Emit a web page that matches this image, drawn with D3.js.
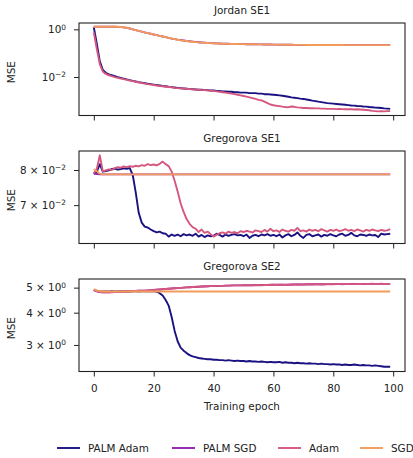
<!DOCTYPE html>
<html>
<head>
<meta charset="utf-8">
<script src="https://cdn.jsdelivr.net/npm/d3@7"></script>
<style>
  body { margin: 0; background: #fff; }
  svg { display: block; }
</style>
</head>
<body>
<script>
// ---- data ----
const epochs = d3.range(0, 100);
const seriesNames = ["PALM Adam", "PALM SGD", "Adam", "SGD"];
const panelTitles = ["Jordan SE1", "Gregorova SE1", "Gregorova SE2"];
const xTickValues = [0, 20, 40, 60, 80, 100];

const jordanTicks = [1, 0.01];
const jordanTickLabels = [["10", "0"], ["10", "\u22122"]];
const gregSe1Ticks = [0.08, 0.07];
const gregSe1TickLabels = [["8 \u00d7 10", "\u22122"], ["7 \u00d7 10", "\u22122"]];
const gregSe2Ticks = [5, 4, 3];
const gregSe2TickLabels = [["5 \u00d7 10", "0"], ["4 \u00d7 10", "0"], ["3 \u00d7 10", "0"]];

const jordanPalmAdam = [1.2,0.25,0.045,0.02,0.015,0.0128,0.0118,0.0108,0.0099,0.0092,
  0.0086,0.0079,0.0074,0.0069,0.0065,0.0061,0.0058,0.0055,0.0052,0.005,
  0.0048,0.0046,0.0044,0.0042,0.0041,0.0039,0.0038,0.0036,0.0035,0.0034,
  0.0033,0.0032,0.0031,0.0031,0.003,0.0029,0.0029,0.0028,0.0028,0.0027,
  0.0027,0.0026,0.0026,0.0025,0.0025,0.0024,0.0024,0.0023,0.0023,0.0022,
  0.0022,0.0022,0.0021,0.0021,0.0021,0.002,0.002,0.0019,0.0019,0.00185,
  0.0018,0.00175,0.0017,0.00163,0.00155,0.00148,0.0014,0.00135,0.0013,0.00124,
  0.0012,0.00114,0.00108,0.00102,0.00097,0.00092,0.00088,0.00084,0.0008,0.00078,
  0.00076,0.00074,0.00072,0.0007,0.00068,0.00066,0.00064,0.00063,0.00061,0.0006,
  0.00058,0.00057,0.00055,0.00054,0.00052,0.00051,0.0005,0.00048,0.00047,0.00046];
const jordanPalmSgd = [1.29,1.29,1.29,1.29,1.29,1.29,1.29,1.28,1.27,1.25,
  1.21,1.15,1.08,1.0,0.93,0.86,0.8,0.74,0.69,0.65,
  0.61,0.57,0.53,0.5,0.47,0.44,0.41,0.39,0.37,0.355,
  0.34,0.325,0.315,0.305,0.297,0.289,0.282,0.276,0.27,0.265,
  0.261,0.258,0.255,0.252,0.249,0.247,0.245,0.243,0.241,0.24,
  0.239,0.238,0.237,0.236,0.235,0.234,0.233,0.232,0.231,0.23,
  0.229,0.228,0.227,0.226,0.225,0.225,0.224,0.223,0.223,0.222,
  0.222,0.221,0.221,0.221,0.22,0.22,0.22,0.22,0.219,0.219,
  0.219,0.219,0.219,0.219,0.218,0.218,0.218,0.218,0.218,0.218,
  0.218,0.218,0.218,0.218,0.218,0.218,0.218,0.218,0.218,0.218];
const jordanAdam = [0.75,0.15,0.035,0.017,0.0135,0.0118,0.0108,0.0099,0.0092,0.0086,
  0.0081,0.0076,0.0071,0.0067,0.0063,0.0059,0.0056,0.0053,0.005,0.0048,
  0.0046,0.0044,0.0042,0.0041,0.0039,0.0038,0.0037,0.0035,0.0034,0.0033,
  0.0033,0.0032,0.0031,0.003,0.003,0.0029,0.0028,0.0028,0.0027,0.0027,
  0.0026,0.0025,0.0024,0.0023,0.0022,0.0021,0.002,0.0019,0.0018,0.0017,
  0.0016,0.0015,0.0014,0.0013,0.0012,0.0011,0.00104,0.00092,0.0008,0.0007,
  0.00065,0.00062,0.0006,0.00057,0.00055,0.00054,0.00058,0.00056,0.00053,0.00052,
  0.0005,0.0005,0.00049,0.00049,0.00048,0.00048,0.00047,0.00047,0.00046,0.00046,
  0.00046,0.00045,0.00046,0.00045,0.00044,0.00045,0.00044,0.00043,0.00044,0.00043,
  0.00042,0.00041,0.0004,0.00038,0.00037,0.00036,0.00037,0.00036,0.00037,0.00037];
const jordanSgd = [1.29,1.29,1.29,1.29,1.29,1.29,1.29,1.29,1.28,1.26,
  1.22,1.16,1.09,1.0,0.93,0.86,0.8,0.74,0.69,0.65,
  0.61,0.57,0.53,0.5,0.47,0.44,0.412,0.388,0.367,0.35,
  0.336,0.322,0.31,0.3,0.292,0.285,0.278,0.272,0.267,0.263,
  0.259,0.256,0.253,0.25,0.248,0.246,0.244,0.242,0.241,0.24,
  0.239,0.238,0.237,0.236,0.235,0.234,0.233,0.232,0.231,0.23,
  0.229,0.228,0.227,0.226,0.225,0.225,0.224,0.223,0.223,0.222,
  0.222,0.221,0.221,0.221,0.22,0.22,0.22,0.22,0.219,0.219,
  0.219,0.219,0.219,0.219,0.218,0.218,0.218,0.218,0.218,0.218,
  0.218,0.218,0.218,0.218,0.218,0.218,0.218,0.218,0.218,0.218];

const gregSe1PalmAdam = [0.0788,0.0795,0.0818,0.0795,0.0797,0.0799,0.0803,0.0804,0.0801,0.0803,
  0.0805,0.0804,0.0806,0.0785,0.0735,0.068,0.0655,0.0645,0.0643,0.0638,
  0.0634,0.0631,0.0633,0.0629,0.0628,0.0621,0.0626,0.0623,0.0626,0.0622,
  0.0627,0.0624,0.0626,0.0623,0.0628,0.0621,0.0625,0.062,0.0624,0.0622,
  0.0623,0.0628,0.0625,0.0621,0.0626,0.0623,0.0625,0.0627,0.0624,0.0625,
  0.0622,0.0626,0.0618,0.0623,0.0625,0.0622,0.0626,0.0624,0.0627,0.0623,
  0.0625,0.0622,0.0626,0.0619,0.0624,0.0627,0.0622,0.0625,0.0631,0.0623,
  0.0618,0.0625,0.0627,0.0622,0.0624,0.0626,0.0621,0.0625,0.0623,0.0627,
  0.0624,0.0622,0.0626,0.0628,0.0623,0.0625,0.063,0.0624,0.0622,0.0626,
  0.0625,0.0623,0.0626,0.0624,0.0625,0.062,0.0628,0.0626,0.0627,0.0628];
const gregSe1PalmSgd = [0.0789,0.0788,0.0787,0.0787,0.0787,0.0787,0.0787,0.0787,0.0787,0.0787,
  0.0787,0.0787,0.0787,0.0787,0.0787,0.0787,0.0787,0.0787,0.0787,0.0787,
  0.0787,0.0787,0.0787,0.0787,0.0787,0.0787,0.0787,0.0787,0.0787,0.0787,
  0.0787,0.0787,0.0787,0.0787,0.0787,0.0787,0.0787,0.0787,0.0787,0.0787,
  0.0787,0.0787,0.0787,0.0787,0.0787,0.0787,0.0787,0.0787,0.0787,0.0787,
  0.0787,0.0787,0.0787,0.0787,0.0787,0.0787,0.0787,0.0787,0.0787,0.0787,
  0.0787,0.0787,0.0787,0.0787,0.0787,0.0787,0.0787,0.0787,0.0787,0.0787,
  0.0787,0.0787,0.0787,0.0787,0.0787,0.0787,0.0787,0.0787,0.0787,0.0787,
  0.0787,0.0787,0.0787,0.0787,0.0787,0.0787,0.0787,0.0787,0.0787,0.0787,
  0.0787,0.0787,0.0787,0.0787,0.0787,0.0787,0.0787,0.0787,0.0787,0.0787];
const gregSe1Adam = [0.079,0.0803,0.0846,0.0796,0.0799,0.0802,0.08,0.0806,0.0809,0.0807,
  0.0811,0.0809,0.0812,0.081,0.0813,0.0811,0.0815,0.0813,0.0818,0.0815,
  0.0817,0.0814,0.0819,0.0826,0.0818,0.0812,0.0795,0.0768,0.0737,0.0705,
  0.0682,0.0664,0.0652,0.0644,0.064,0.0632,0.0638,0.063,0.0633,0.0627,
  0.0621,0.0625,0.0629,0.0631,0.0628,0.0633,0.063,0.0632,0.0629,0.0634,
  0.0632,0.0635,0.0633,0.0631,0.0636,0.0634,0.0632,0.0637,0.0633,0.064,
  0.0634,0.0636,0.0632,0.0638,0.0635,0.0633,0.0637,0.0635,0.0642,0.0634,
  0.0636,0.0633,0.0638,0.0635,0.0637,0.0634,0.0639,0.0636,0.0633,0.0637,
  0.0635,0.0638,0.0634,0.0636,0.0639,0.0635,0.0637,0.0634,0.0638,0.0636,
  0.0633,0.0637,0.0635,0.0638,0.0636,0.0634,0.0637,0.0635,0.0636,0.0639];
const gregSe1Sgd = [0.0803,0.0796,0.0789,0.0787,0.0787,0.0787,0.0787,0.0787,0.0787,0.0787,
  0.0787,0.0787,0.0787,0.0787,0.0787,0.0787,0.0787,0.0787,0.0787,0.0787,
  0.0787,0.0787,0.0787,0.0787,0.0787,0.0787,0.0787,0.0787,0.0787,0.0787,
  0.0787,0.0787,0.0787,0.0787,0.0787,0.0787,0.0787,0.0787,0.0787,0.0787,
  0.0787,0.0787,0.0787,0.0787,0.0787,0.0787,0.0787,0.0787,0.0787,0.0787,
  0.0787,0.0787,0.0787,0.0787,0.0787,0.0787,0.0787,0.0787,0.0787,0.0787,
  0.0787,0.0787,0.0787,0.0787,0.0787,0.0787,0.0787,0.0787,0.0787,0.0787,
  0.0787,0.0787,0.0787,0.0787,0.0787,0.0787,0.0787,0.0787,0.0787,0.0787,
  0.0787,0.0787,0.0787,0.0787,0.0787,0.0787,0.0787,0.0787,0.0787,0.0787,
  0.0787,0.0787,0.0787,0.0787,0.0787,0.0787,0.0787,0.0787,0.0787,0.0787];

const gregSe2PalmAdam = [4.9,4.86,4.84,4.83,4.83,4.83,4.84,4.83,4.83,4.84,
  4.83,4.84,4.83,4.84,4.84,4.83,4.84,4.84,4.84,4.84,
  4.84,4.82,4.76,4.66,4.48,4.26,3.85,3.4,3.1,2.93,
  2.85,2.79,2.74,2.71,2.69,2.67,2.66,2.65,2.64,2.64,
  2.63,2.63,2.62,2.62,2.61,2.62,2.61,2.6,2.61,2.6,
  2.6,2.59,2.6,2.59,2.59,2.58,2.59,2.58,2.57,2.58,
  2.57,2.57,2.58,2.56,2.57,2.56,2.56,2.55,2.56,2.55,
  2.55,2.54,2.55,2.54,2.54,2.53,2.54,2.53,2.53,2.52,
  2.53,2.52,2.52,2.51,2.52,2.51,2.51,2.52,2.51,2.5,
  2.51,2.5,2.5,2.49,2.5,2.49,2.48,2.47,2.47,2.47];
const gregSe2PalmSgd = [4.89,4.84,4.81,4.8,4.8,4.8,4.81,4.81,4.82,4.82,
  4.83,4.83,4.84,4.85,4.85,4.86,4.87,4.87,4.88,4.89,
  4.9,4.91,4.92,4.93,4.94,4.95,4.96,4.97,4.98,4.99,
  5.0,5.01,5.02,5.03,5.03,5.04,5.05,5.05,5.06,5.07,
  5.07,5.07,5.08,5.08,5.09,5.09,5.1,5.1,5.1,5.1,
  5.11,5.11,5.11,5.11,5.12,5.12,5.12,5.12,5.12,5.13,
  5.13,5.13,5.13,5.13,5.13,5.13,5.14,5.14,5.14,5.14,
  5.14,5.15,5.15,5.15,5.15,5.15,5.15,5.15,5.16,5.16,
  5.16,5.16,5.16,5.16,5.16,5.16,5.17,5.17,5.17,5.17,
  5.17,5.17,5.17,5.17,5.17,5.17,5.17,5.17,5.17,5.17];
const gregSe2Adam = [4.9,4.85,4.81,4.8,4.8,4.8,4.8,4.81,4.81,4.82,
  4.82,4.83,4.84,4.84,4.85,4.86,4.86,4.87,4.88,4.89,
  4.9,4.91,4.92,4.93,4.94,4.95,4.96,4.97,4.98,4.99,
  5.0,5.01,5.02,5.03,5.04,5.04,5.05,5.06,5.06,5.07,
  5.07,5.08,5.08,5.08,5.09,5.09,5.09,5.1,5.1,5.1,
  5.1,5.11,5.1,5.11,5.11,5.12,5.11,5.12,5.12,5.12,
  5.13,5.12,5.13,5.13,5.12,5.13,5.13,5.14,5.15,5.14,
  5.14,5.14,5.15,5.14,5.15,5.15,5.14,5.15,5.15,5.16,
  5.15,5.16,5.16,5.15,5.16,5.17,5.16,5.16,5.17,5.17,
  5.16,5.17,5.17,5.18,5.17,5.17,5.18,5.17,5.17,5.17];
const gregSe2Sgd = [4.93,4.88,4.85,4.83,4.83,4.83,4.83,4.83,4.83,4.83,
  4.83,4.83,4.83,4.83,4.83,4.83,4.83,4.83,4.83,4.83,
  4.83,4.83,4.83,4.83,4.83,4.83,4.83,4.83,4.83,4.83,
  4.83,4.83,4.83,4.83,4.83,4.83,4.83,4.83,4.83,4.83,
  4.83,4.83,4.83,4.83,4.83,4.83,4.83,4.83,4.83,4.83,
  4.83,4.83,4.83,4.83,4.83,4.83,4.83,4.83,4.83,4.83,
  4.83,4.83,4.83,4.83,4.83,4.83,4.83,4.83,4.83,4.83,
  4.83,4.83,4.83,4.83,4.83,4.83,4.83,4.83,4.83,4.83,
  4.83,4.83,4.83,4.83,4.83,4.83,4.83,4.83,4.83,4.83,
  4.83,4.83,4.83,4.83,4.83,4.83,4.83,4.83,4.83,4.83];

// ---- layout ----
const width = 413, height = 458;
const left = 79, right = 405;
const panelTops = [23, 151, 279];
const panelHeight = 92.5;
const colors = ["#1b1282", "#9322ad", "#d6577e", "#f39b5a"];
const font = "DejaVu Sans";

const panels = [
  { series: [jordanPalmAdam, jordanPalmSgd, jordanAdam, jordanSgd],
    domain: [2.42e-4, 1.845], ticks: jordanTicks, labels: jordanTickLabels },
  { series: [gregSe1PalmAdam, gregSe1PalmSgd, gregSe1Adam, gregSe1Sgd],
    domain: [0.0605, 0.086], ticks: gregSe1Ticks, labels: gregSe1TickLabels },
  { series: [gregSe2PalmAdam, gregSe2PalmSgd, gregSe2Adam, gregSe2Sgd],
    domain: [2.368, 5.40], ticks: gregSe2Ticks, labels: gregSe2TickLabels }
];

const svg = d3.select("body").append("svg")
  .attr("width", width)
  .attr("height", height)
  .style("font-family", font);

const x = d3.scaleLinear().domain([-4.95, 103.95]).range([left, right]);

panels.forEach((p, i) => {
  const top = panelTops[i];
  const bottom = top + panelHeight;
  const y = d3.scaleLog().domain(p.domain).range([bottom, top]);
  const g = svg.append("g");

  g.append("clipPath").attr("id", "clip" + i)
    .append("rect")
    .attr("x", left).attr("y", top)
    .attr("width", right - left).attr("height", bottom - top);

  const line = d3.line()
    .x((d, j) => x(epochs[j]))
    .y(d => y(d));

  p.series.forEach((vals, k) => {
    g.append("path")
      .datum(vals)
      .attr("clip-path", `url(#clip${i})`)
      .attr("fill", "none")
      .attr("stroke", colors[k])
      .attr("stroke-width", 1.9)
      .attr("stroke-linejoin", "round")
      .attr("d", line);
  });

  // frame
  g.append("rect")
    .attr("x", left).attr("y", top)
    .attr("width", right - left).attr("height", bottom - top)
    .attr("fill", "none")
    .attr("stroke", "#222")
    .attr("stroke-width", 1.1);

  // x axis
  const xAxis = d3.axisBottom(x).tickValues(xTickValues).tickSize(5).tickPadding(8);
  if (i < panels.length - 1) xAxis.tickFormat("");
  const gx = g.append("g")
    .attr("transform", `translate(0,${bottom})`)
    .call(xAxis)
    .attr("font-family", font)
    .attr("font-size", "10.4px")
    .attr("color", "#222");
  gx.select(".domain").remove();
  gx.selectAll("line").attr("stroke-width", 1);

  // y axis
  const yAxis = d3.axisLeft(y).tickValues(p.ticks).tickSize(5).tickPadding(8).tickFormat("");
  const gy = g.append("g")
    .attr("transform", `translate(${left},0)`)
    .call(yAxis)
    .attr("font-family", font)
    .attr("font-size", "10.4px")
    .attr("color", "#222");
  gy.select(".domain").remove();
  gy.selectAll("line").attr("stroke-width", 1);
  gy.selectAll(".tick text").each(function(d) {
    const lab = p.labels[p.ticks.indexOf(d)];
    const t = d3.select(this).text(null);
    t.append("tspan").text(lab[0]);
    t.append("tspan").attr("dy", -3.6).attr("font-size", "7.4px").text(lab[1]);
  });

  // title
  svg.append("text")
    .attr("x", (left + right) / 2)
    .attr("y", top - 9)
    .attr("text-anchor", "middle")
    .attr("font-size", "10.4px")
    .attr("fill", "#222")
    .text(panelTitles[i]);

  // y label
  svg.append("text")
    .attr("transform", `translate(15,${(top + bottom) / 2 + 3}) rotate(-90)`)
    .attr("text-anchor", "middle")
    .attr("font-size", "10.4px")
    .attr("fill", "#222")
    .text("MSE");
});

// x label
svg.append("text")
  .attr("x", (left + right) / 2)
  .attr("y", 410)
  .attr("text-anchor", "middle")
  .attr("font-size", "10.4px")
  .attr("fill", "#222")
  .text("Training epoch");

// legend
const legendX = [57, 172, 278, 360];
const legend = svg.append("g").attr("transform", "translate(0,448)");
seriesNames.forEach((name, k) => {
  legend.append("line")
    .attr("x1", legendX[k]).attr("x2", legendX[k] + 23)
    .attr("y1", 0).attr("y2", 0)
    .attr("stroke", colors[k])
    .attr("stroke-width", 1.9);
  legend.append("text")
    .attr("x", legendX[k] + 31)
    .attr("dy", "0.35em")
    .attr("font-size", "10.4px")
    .attr("fill", "#222")
    .text(name);
});
</script>
</body>
</html>
